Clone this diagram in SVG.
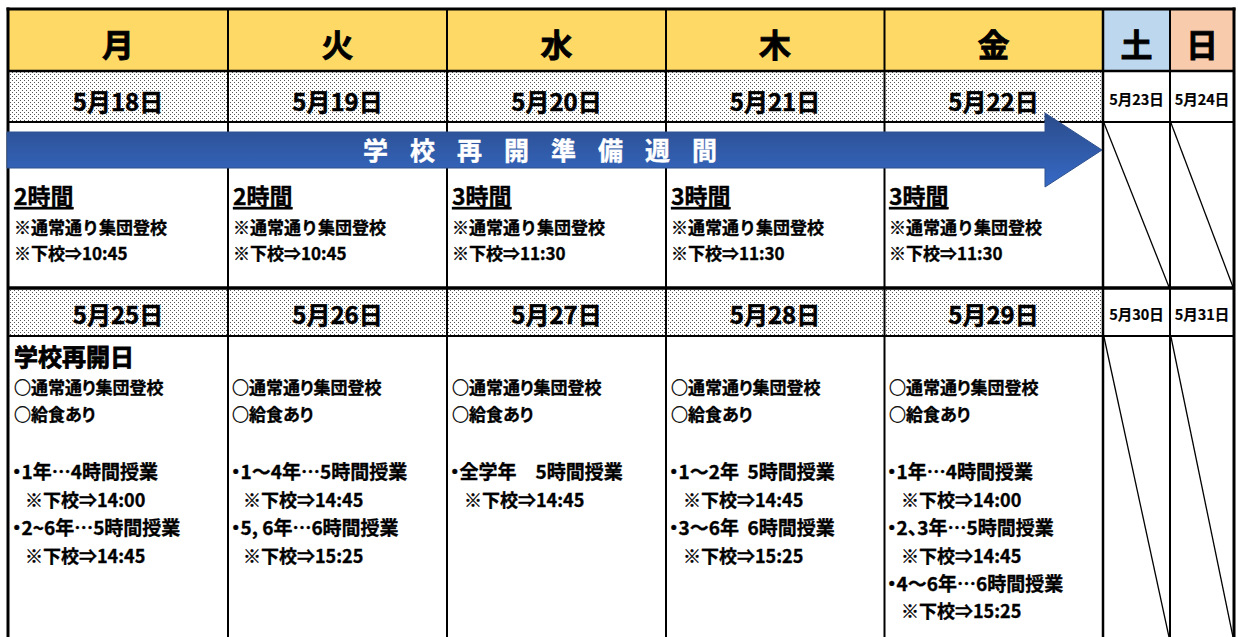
<svg xmlns="http://www.w3.org/2000/svg" width="1238" height="637" viewBox="0 0 1238 637">
<style>
.t{font-family:"Noto Sans CJK JP","Noto Sans CJK SC",sans-serif;font-weight:bold;fill:#000;stroke:#000;stroke-width:0.35px;font-feature-settings:"palt";}
.np{font-feature-settings:normal;}
.hd{font-size:32px;text-anchor:middle;stroke-width:0.8px;}
.dt{font-size:24px;text-anchor:middle;stroke-width:0.5px;}
.ds{font-size:14.5px;text-anchor:middle;stroke-width:0.2px;}
.hr{font-size:23px;text-decoration:underline;}
.s17{font-size:17px;}
.s19{font-size:19px;}
.s18{font-size:18px;}
.big{font-size:24px;stroke-width:0.8px;}
.ar{font-family:"Noto Sans CJK JP",sans-serif;font-weight:bold;font-size:25px;fill:#fff;stroke:#fff;stroke-width:0.4px;}
.ln{stroke:#000;fill:none;}
</style>
<defs>
<pattern id="dots" width="4" height="4" patternUnits="userSpaceOnUse">
<rect width="4" height="4" fill="#fff"/>
<rect x="0" y="0" width="1" height="1" fill="#555"/>
<rect x="2" y="2" width="1" height="1" fill="#555"/>
</pattern>
<linearGradient id="ag" x1="0" y1="0" x2="0" y2="1">
<stop offset="0" stop-color="#2B4C8A"/>
<stop offset="1" stop-color="#3669C6"/>
</linearGradient>
</defs>
<rect width="1238" height="637" fill="#fff"/>

<!-- header -->
<g id="header">
<rect x="8" y="9" width="1095" height="62" fill="#FFD966"/>
<rect x="1103" y="9" width="67" height="62" fill="#BDD7EE"/>
<rect x="1170" y="9" width="64" height="62" fill="#F8CBAD"/>
<text class="t hd" x="118" y="57">月</text>
<text class="t hd" x="337.5" y="57">火</text>
<text class="t hd" x="556.5" y="57">水</text>
<text class="t hd" x="775" y="57">木</text>
<text class="t hd" x="993.5" y="57">金</text>
<text class="t hd" x="1136.5" y="57">土</text>
<text class="t hd" x="1202" y="57">日</text>
</g>

<!-- week 1 dates -->
<g id="dates1">
<rect x="8" y="71" width="1095" height="51" fill="url(#dots)"/>
<text class="t dt" x="118" y="111">5月18日</text>
<text class="t dt" x="337.5" y="111">5月19日</text>
<text class="t dt" x="556.5" y="111">5月20日</text>
<text class="t dt" x="775" y="111">5月21日</text>
<text class="t dt" x="993.5" y="111">5月22日</text>
<text class="t ds" x="1136.5" y="105">5月23日</text>
<text class="t ds" x="1202" y="105">5月24日</text>
</g>

<!-- week 2 dates -->
<g id="dates2">
<rect x="8" y="288" width="1095" height="48" fill="url(#dots)"/>
<text class="t dt" x="118" y="324">5月25日</text>
<text class="t dt" x="337.5" y="324">5月26日</text>
<text class="t dt" x="556.5" y="324">5月27日</text>
<text class="t dt" x="775" y="324">5月28日</text>
<text class="t dt" x="993.5" y="324">5月29日</text>
<text class="t ds" x="1136.5" y="320">5月30日</text>
<text class="t ds" x="1202" y="320">5月31日</text>
</g>

<!-- week 1 bodies -->
<g id="mon1">
<text class="t hr" x="14" y="205">2時間</text>
<text class="t s17 np" x="14" y="234">※通常通り集団登校</text>
<text class="t s17 np" x="14" y="260">※下校⇒10:45</text>
</g>
<g id="tue1">
<text class="t hr" x="233" y="205">2時間</text>
<text class="t s17 np" x="233" y="234">※通常通り集団登校</text>
<text class="t s17 np" x="233" y="260">※下校⇒10:45</text>
</g>
<g id="wed1">
<text class="t hr" x="452" y="205">3時間</text>
<text class="t s17 np" x="452" y="234">※通常通り集団登校</text>
<text class="t s17 np" x="452" y="260">※下校⇒11:30</text>
</g>
<g id="thu1">
<text class="t hr" x="671" y="205">3時間</text>
<text class="t s17 np" x="671" y="234">※通常通り集団登校</text>
<text class="t s17 np" x="671" y="260">※下校⇒11:30</text>
</g>
<g id="fri1">
<text class="t hr" x="889" y="205">3時間</text>
<text class="t s17 np" x="889" y="234">※通常通り集団登校</text>
<text class="t s17 np" x="889" y="260">※下校⇒11:30</text>
</g>

<!-- week 2 bodies -->
<g id="mon2">
<text class="t big" x="14" y="366">学校再開日</text>
<text class="t s17" x="14" y="394">○通常通り集団登校</text>
<text class="t s17" x="14" y="421">○給食あり</text>
<text class="t s19" x="12" y="479">・1年…4時間授業</text>
<text class="t s18" x="25" y="507">※下校⇒14:00</text>
<text class="t s19" x="12" y="535">・2~6年…5時間授業</text>
<text class="t s18" x="25" y="563">※下校⇒14:45</text>
</g>
<g id="tue2">
<text class="t s17" x="232" y="394">○通常通り集団登校</text>
<text class="t s17" x="232" y="421">○給食あり</text>
<text class="t s19" x="231" y="479">・1～4年…5時間授業</text>
<text class="t s18" x="243" y="507">※下校⇒14:45</text>
<text class="t s19" x="231" y="535">・5, 6年…6時間授業</text>
<text class="t s18" x="243" y="563">※下校⇒15:25</text>
</g>
<g id="wed2">
<text class="t s17" x="452" y="394">○通常通り集団登校</text>
<text class="t s17" x="452" y="421">○給食あり</text>
<text class="t s19" x="450" y="479" xml:space="preserve">・全学年　5時間授業</text>
<text class="t s18" x="464" y="507">※下校⇒14:45</text>
</g>
<g id="thu2">
<text class="t s17" x="671" y="394">○通常通り集団登校</text>
<text class="t s17" x="671" y="421">○給食あり</text>
<text class="t s19" x="669" y="479" xml:space="preserve">・1～2年  5時間授業</text>
<text class="t s18" x="683" y="507">※下校⇒14:45</text>
<text class="t s19" x="669" y="535" xml:space="preserve">・3～6年  6時間授業</text>
<text class="t s18" x="683" y="563">※下校⇒15:25</text>
</g>
<g id="fri2">
<text class="t s17" x="889" y="394">○通常通り集団登校</text>
<text class="t s17" x="889" y="421">○給食あり</text>
<text class="t s19" x="887" y="479">・1年…4時間授業</text>
<text class="t s18" x="901" y="507">※下校⇒14:00</text>
<text class="t s19" x="887" y="535">・2、3年…5時間授業</text>
<text class="t s18" x="901" y="563">※下校⇒14:45</text>
<text class="t s19" x="887" y="591">・4～6年…6時間授業</text>
<text class="t s18" x="901" y="618">※下校⇒15:25</text>
</g>

<!-- grid -->
<g id="grid" class="ln">
<line x1="6.5" y1="9" x2="1235.5" y2="9" stroke-width="3"/>
<line x1="8" y1="71" x2="1234" y2="71" stroke-width="2.5"/>
<line x1="8" y1="122" x2="1234" y2="122" stroke-width="2"/>
<line x1="8" y1="288" x2="1234" y2="288" stroke-width="3.5"/>
<line x1="8" y1="336" x2="1234" y2="336" stroke-width="2"/>
<line x1="8" y1="7.5" x2="8" y2="637" stroke-width="3"/>
<line x1="228" y1="9" x2="228" y2="637" stroke-width="2"/>
<line x1="447" y1="9" x2="447" y2="637" stroke-width="2"/>
<line x1="666" y1="9" x2="666" y2="637" stroke-width="2"/>
<line x1="884.5" y1="9" x2="884.5" y2="637" stroke-width="2"/>
<line x1="1103" y1="9" x2="1103" y2="637" stroke-width="2.5"/>
<line x1="1170" y1="9" x2="1170" y2="637" stroke-width="2"/>
<line x1="1234" y1="7.5" x2="1234" y2="637" stroke-width="3"/>
<line x1="1104" y1="123" x2="1169" y2="287" stroke-width="1.3"/>
<line x1="1171" y1="123" x2="1233" y2="287" stroke-width="1.3"/>
<line x1="1104" y1="337" x2="1169" y2="637" stroke-width="1.3"/>
<line x1="1171" y1="337" x2="1233" y2="637" stroke-width="1.3"/>
</g>

<!-- arrow -->
<g id="connectors">
<g id="prep-arrow">
<polygon points="7,132 1045,132 1045,113 1102,150 1045,187 1045,168 7,168" fill="url(#ag)" stroke="#2F528F" stroke-width="1"/>
<text class="ar" y="160" x="363 380 410 427 457 474 504 521 551 568 598 615 645 662 692" xml:space="preserve">学 校 再 開 準 備 週 間</text>
</g>
</g>
</svg>
